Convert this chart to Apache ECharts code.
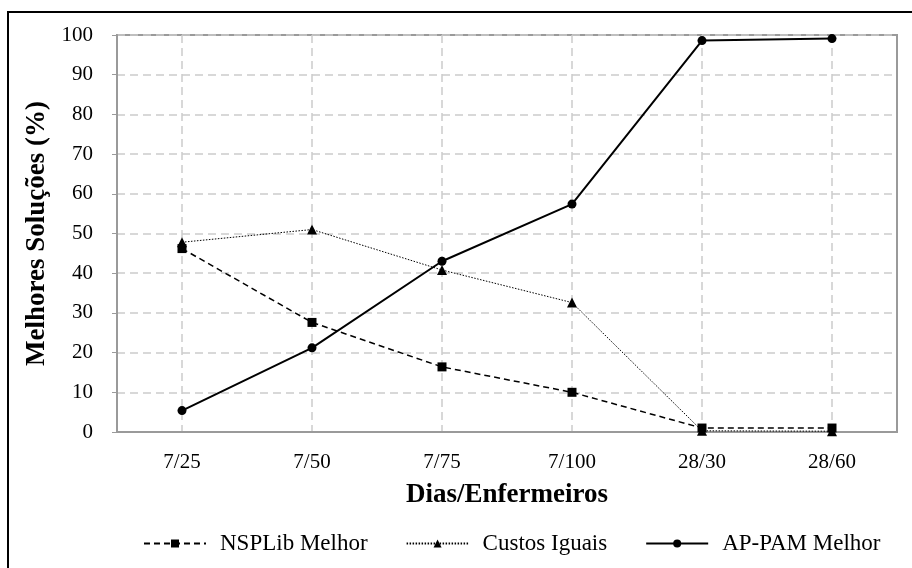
<!DOCTYPE html>
<html>
<head>
<meta charset="utf-8">
<script src="https://cdn.jsdelivr.net/npm/echarts@6/dist/echarts.min.js"></script>
<style>html,body{margin:0;padding:0;background:#fff;}#c{width:912px;height:568px;}</style>
</head>
<body>
<div id="c"></div>
<script>
const categories = ['7/25', '7/50', '7/75', '7/100', '28/30', '28/60'];
const nsplib = [46.2, 27.6, 16.4, 10.0, 1.0, 1.0];
const custos = [47.8, 51.0, 40.8, 32.6, 0.3, 0.2];
const appam = [5.4, 21.2, 43.0, 57.4, 98.6, 99.1];
const yTicks = [0, 10, 20, 30, 40, 50, 60, 70, 80, 90, 100];

const FONT = '"Liberation Serif", "Times New Roman", serif';
const chart = echarts.init(document.getElementById('c'));
chart.setOption({
  animation: false,
  backgroundColor: '#fff',
  textStyle: { fontFamily: FONT, color: '#000' },
  graphic: [{
    type: 'rect', shape: { x: 8, y: 12, width: 920, height: 580 },
    style: { fill: 'none', stroke: '#000', lineWidth: 2 }, silent: true
  }],
  grid: { left: 117, right: 15, top: 35, bottom: 136, show: true, borderColor: '#9a9a9a', borderWidth: 2 },
  legend: {
    top: 527, left: 138, itemWidth: 62, itemHeight: 10, itemGap: 38,
    textStyle: { fontFamily: FONT, fontSize: 23, color: '#000', padding: [0, 0, 0, 9] },
    data: ['NSPLib Melhor', 'Custos Iguais', 'AP-PAM Melhor']
  },
  xAxis: {
    type: 'category', data: categories, boundaryGap: true,
    name: 'Dias/Enfermeiros', nameLocation: 'middle', nameGap: 50,
    nameTextStyle: { fontFamily: FONT, fontSize: 27, fontWeight: 'bold', color: '#000' },
    axisLine: { lineStyle: { color: '#9a9a9a', width: 2 } },
    axisTick: { alignWithLabel: true, length: 5, lineStyle: { color: '#9a9a9a' } },
    axisLabel: { fontFamily: FONT, fontSize: 21, color: '#000', margin: 20 },
    splitLine: { show: true, alignWithLabel: true, lineStyle: { color: '#cccccc', type: [8, 5], width: 1.5 } }
  },
  yAxis: {
    type: 'value', min: 0, max: 100, interval: 10,
    name: 'Melhores Soluções (%)', nameLocation: 'middle', nameGap: 57, nameRotate: 90,
    nameTextStyle: { fontFamily: FONT, fontSize: 27, fontWeight: 'bold', color: '#000' },
    axisLine: { show: true, lineStyle: { color: '#9a9a9a', width: 2 } },
    axisTick: { show: true, length: 5, lineStyle: { color: '#9a9a9a' } },
    axisLabel: { fontFamily: FONT, fontSize: 21, color: '#000', margin: 24,
      formatter: v => yTicks.includes(v) ? String(v) : '' },
    splitLine: { show: true, lineStyle: { color: '#cccccc', type: [8, 5], width: 1.5 } }
  },
  series: [
    { name: 'NSPLib Melhor', type: 'line', data: nsplib, symbol: 'rect', symbolSize: 9,
      itemStyle: { color: '#000' }, lineStyle: { color: '#000', width: 1.5, type: [6, 4] }, z: 3 },
    { name: 'Custos Iguais', type: 'line', data: custos, symbol: 'triangle', symbolSize: 10,
      itemStyle: { color: '#000' }, lineStyle: { color: '#000', width: 1, type: [1.5, 1.5] }, z: 2 },
    { name: 'AP-PAM Melhor', type: 'line', data: appam, symbol: 'circle', symbolSize: 9,
      itemStyle: { color: '#000' }, lineStyle: { color: '#000', width: 2 }, z: 4 }
  ]
});
</script>
</body>
</html>
